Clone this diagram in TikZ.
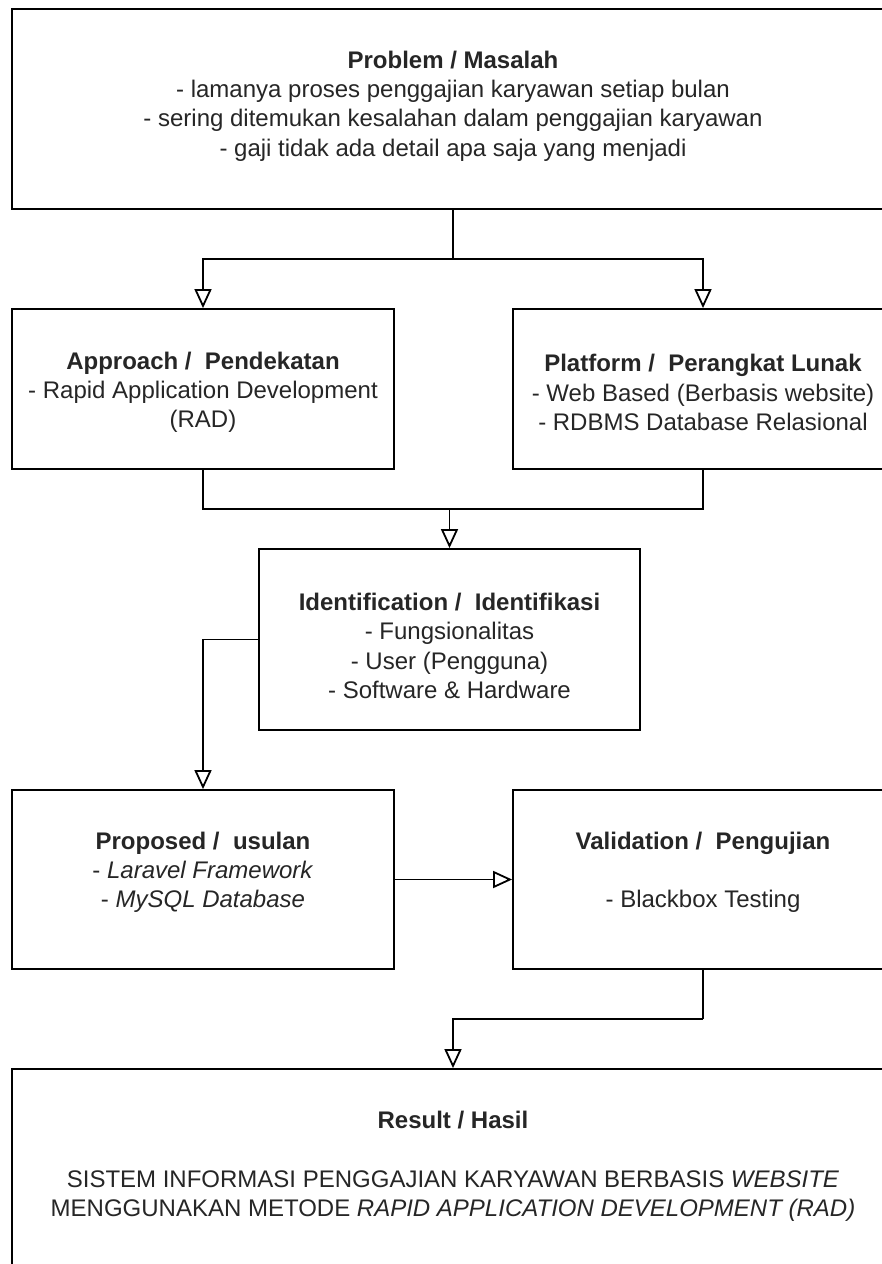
\documentclass[tikz,border=0pt]{standalone}
\usepackage{fontspec}
\setmainfont{Liberation Sans}
\usetikzlibrary{arrows.meta}
\definecolor{txt}{HTML}{262626}
\tikzset{
  box/.style={draw=black, line width=1.8pt, fill=white, rectangle, inner sep=0pt},
  lbl/.style={align=center, text=txt, inner sep=0pt, font=\fontsize{24}{29.2}\selectfont},
  conn/.style={draw=black, line width=1.8pt},
  arr/.style={conn, -{Triangle[open, width=17pt, length=19pt]}}
}
\begin{document}
\begin{tikzpicture}[x=1pt,y=-1pt]
\useasboundingbox (0,0) rectangle (882,1264);
\clip (0,0) rectangle (882,1264);
\fill[white] (0,0) rectangle (882,1264);

% boxes
\node[box, minimum width=882pt, minimum height=200pt] (problem) at (453,109) {};
\node[box, minimum width=382pt, minimum height=160pt] (approach) at (203,389) {};
\node[box, minimum width=380pt, minimum height=160pt] (platform) at (703,389) {};
\node[box, minimum width=381pt, minimum height=181pt] (ident) at (449.5,639.5) {};
\node[box, minimum width=382pt, minimum height=179pt] (proposed) at (203,879.5) {};
\node[box, minimum width=380pt, minimum height=179pt] (valid) at (703,879.5) {};
\node[box, minimum width=882pt, minimum height=206pt] (result) at (453,1172) {};

% texts
\node[lbl] (problemT) at (453,106) {\textbf{Problem / Masalah}\\- lamanya proses penggajian karyawan setiap bulan\\- sering ditemukan kesalahan dalam penggajian karyawan\\- gaji tidak ada detail apa saja yang menjadi};
\node[lbl] (approachT) at (203,392.5) {\textbf{Approach /\ \ Pendekatan}\\- Rapid Application Development\\(RAD)};
\node[lbl] (platformT) at (703,392.5) {\textbf{Platform /\ \ Perangkat Lunak}\\- Web Based (Berbasis website)\\- RDBMS Database Relasional};
\node[lbl] (identT) at (449.5,646) {\textbf{Identification /\ \ Identifikasi}\\- Fungsionalitas\\- User (Pengguna)\\- Software \& Hardware};
\node[lbl] (proposedT) at (203,872) {\textbf{Proposed /\ \ usulan}\\- \textit{Laravel Framework}\\- \textit{MySQL Database}};
\node[lbl] (validT) at (703,872) {\textbf{Validation /\ \ Pengujian}\\[29.2pt]- Blackbox Testing};
\node[lbl] (resultT) at (453,1166.5) {\textbf{Result / Hasil}\\[29.2pt]SISTEM INFORMASI PENGGAJIAN KARYAWAN BERBASIS \textit{WEBSITE}\\MENGGUNAKAN METODE \textit{RAPID APPLICATION DEVELOPMENT (RAD)}};

% junction points
\coordinate (j1) at (453,259);
\coordinate (j2) at (449.5,509);
\coordinate (j3) at (703,1019);

% connectors
\draw[conn] (problem.south) -- (j1);
\draw[arr] (j1) -| (approach.north);
\draw[arr] (j1) -| (platform.north);
\draw[conn] (approach.south) |- (j2);
\draw[conn] (platform.south) |- (j2);
\draw[arr] (j2) -- (ident.north);
\draw[arr] (ident.west) -| (proposed.north);
\draw[arr] (proposed.east) -- (valid.west);
\draw[conn] (valid.south) -- (j3);
\draw[arr] (j3) -| (result.north);
\end{tikzpicture}
\end{document}
